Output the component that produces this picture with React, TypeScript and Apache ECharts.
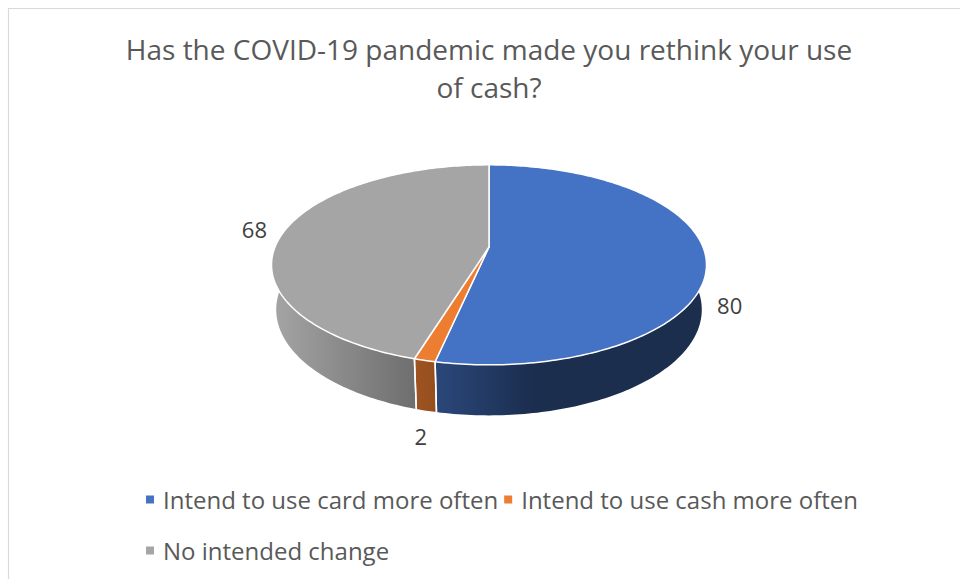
import React, { useEffect, useRef } from "react";
import * as echarts from "echarts";

// Survey answers
const categories = [
  "Intend to use card more often",
  "Intend to use cash more often",
  "No intended change",
];
const values = [80, 2, 68];
const colors = ["#4472C4", "#ED7D31", "#A5A5A5"];
const titleText = "Has the COVID-19 pandemic made you rethink your use\nof cash?";

// Perspective camera for the tilted 3D disc
const CX = 489;
const CY = 247;
const FOCAL = 1070;
const DIST = 5;
const TILT = (26.9 * Math.PI) / 180;
const THICK = 0.2365;
const FONT = "'Open Sans'";

const rad = (deg: number) => (deg * Math.PI) / 180;

function project(thetaDeg: number, r: number, z: number): number[] {
  const t = rad(thetaDeg);
  const X = r * Math.sin(t);
  const Y = r * Math.cos(t);
  const s = Math.sin(TILT);
  const c = Math.cos(TILT);
  const up = Y * s + z * c;
  const depth = DIST + Y * c - z * s;
  return [CX + (FOCAL * X) / depth, CY - (FOCAL * up) / depth];
}

// Side-wall lighting: light comes from the left, slightly towards the viewer
function lightFactor(thetaDeg: number): number {
  return 0.4 + 0.6 * Math.max(0, -Math.sin(rad(thetaDeg + 10)));
}

function shade(hex: string, f: number): string {
  const n = parseInt(hex.slice(1), 16);
  const r = Math.round(((n >> 16) & 255) * f);
  const g = Math.round(((n >> 8) & 255) * f);
  const b = Math.round((n & 255) * f);
  return `rgb(${r},${g},${b})`;
}

function arcPoints(a: number, b: number, z: number): number[][] {
  const steps = Math.max(2, Math.ceil((b - a) / 1));
  const pts: number[][] = [];
  for (let i = 0; i <= steps; i++) pts.push(project(a + ((b - a) * i) / steps, 1, z));
  return pts;
}

const total = values.reduce((s, v) => s + v, 0);
const cumulative: number[] = [];
values.reduce((acc, v) => {
  cumulative.push(acc);
  return acc + v;
}, 0);

function renderSlice(params: any, api: any) {
  const start = api.value(0) as number;
  const end = api.value(1) as number;
  const value = api.value(2) as number;
  const color = api.visual("color") as string;
  const a = (start / total) * 360;
  const b = (end / total) * 360;
  const children: any[] = [];

  // visible outer wall (front half of the disc)
  const va = Math.max(a, 90);
  const vb = Math.min(b, 270);
  if (va < vb) {
    const topRim = arcPoints(va, vb, 0);
    const botRim = arcPoints(va, vb, -THICK).reverse();
    const samples: { x: number; c: string }[] = [];
    const n = Math.max(2, Math.ceil((vb - va) / 4));
    for (let i = 0; i <= n; i++) {
      const th = va + ((vb - va) * i) / n;
      const p = project(th, 1, -THICK / 2);
      samples.push({ x: p[0], c: shade(color, lightFactor(th)) });
    }
    samples.sort((p, q) => p.x - q.x);
    const x0 = samples[0].x;
    const x1 = samples[samples.length - 1].x;
    const span = Math.max(1, x1 - x0);
    const stops = samples.map((smp) => ({ offset: (smp.x - x0) / span, color: smp.c }));
    children.push({
      type: "polygon",
      z2: 1,
      shape: { points: topRim.concat(botRim) },
      style: { fill: new echarts.graphic.LinearGradient(x0, 0, x1, 0, stops, true) },
    });
    [a, b].forEach((th) => {
      if (th > 90 && th < 270) {
        const p = project(th, 1, 0);
        const q = project(th, 1, -THICK);
        children.push({
          type: "line",
          z2: 2,
          shape: { x1: p[0], y1: p[1], x2: q[0], y2: q[1] },
          style: { stroke: "#ffffff", lineWidth: 1.5 },
        });
      }
    });
  }

  // top face
  children.push({
    type: "polygon",
    z2: 3,
    shape: { points: [[CX, CY]].concat(arcPoints(a, b, 0)) },
    style: { fill: color, stroke: "#ffffff", lineWidth: 1.5, lineJoin: "round" },
  });

  // value label outside the slice
  const mid = (a + b) / 2;
  const front = Math.cos(rad(mid)) < 0;
  const anchor = project(mid, 1, front ? -THICK : 0);
  const label = String(value);
  const halfW = label.length * 6.3;
  const halfH = 10;
  const gap = 16;
  children.push({
    type: "text",
    z2: 4,
    x: anchor[0] + (halfW + gap) * Math.sin(rad(mid)),
    y: anchor[1] - (halfH + gap) * Math.cos(rad(mid)),
    style: {
      text: label,
      fill: "#404040",
      font: `22px ${FONT}`,
      align: "center",
      verticalAlign: "middle",
    },
  });

  return { type: "group", children };
}

export default function App() {
  const ref = useRef<HTMLDivElement>(null);

  useEffect(() => {
    if (!ref.current) return;
    const chart = echarts.init(ref.current, undefined, { renderer: "svg" });
    chart.setOption({
      animation: false,
      backgroundColor: "#ffffff",
      graphic: [
        {
          type: "rect",
          shape: { x: 8.5, y: 8.5, width: 1000, height: 1000 },
          style: { fill: "none", stroke: "#d9d9d9", lineWidth: 1.2 },
          silent: true,
        },
        {
          type: "text",
          x: 489,
          y: 30,
          style: {
            text: titleText,
            font: `28px ${FONT}`,
            fill: "#595959",
            align: "center",
            verticalAlign: "top",
            lineHeight: 38,
          },
          silent: true,
        },
      ],
      legend: {
        data: categories,
        left: 141,
        top: 472,
        width: 740,
        icon: "rect",
        itemWidth: 8,
        itemHeight: 8,
        itemGap: 6,
        selectedMode: false,
        textStyle: {
          fontFamily: "Open Sans",
          fontSize: 24,
          color: "#595959",
          lineHeight: 45,
          padding: [0, 0, 0, 4],
        },
      },
      series: categories.map((name, i) => ({
        type: "custom",
        name,
        coordinateSystem: "none",
        silent: true,
        itemStyle: { color: colors[i] },
        data: [[cumulative[i], cumulative[i] + values[i], values[i]]],
        renderItem: renderSlice,
      })),
    });
    return () => chart.dispose();
  }, []);

  return (
    <div
      ref={ref}
      style={{ position: "absolute", left: 0, top: 0, width: 960, height: 579 }}
    />
  );
}
